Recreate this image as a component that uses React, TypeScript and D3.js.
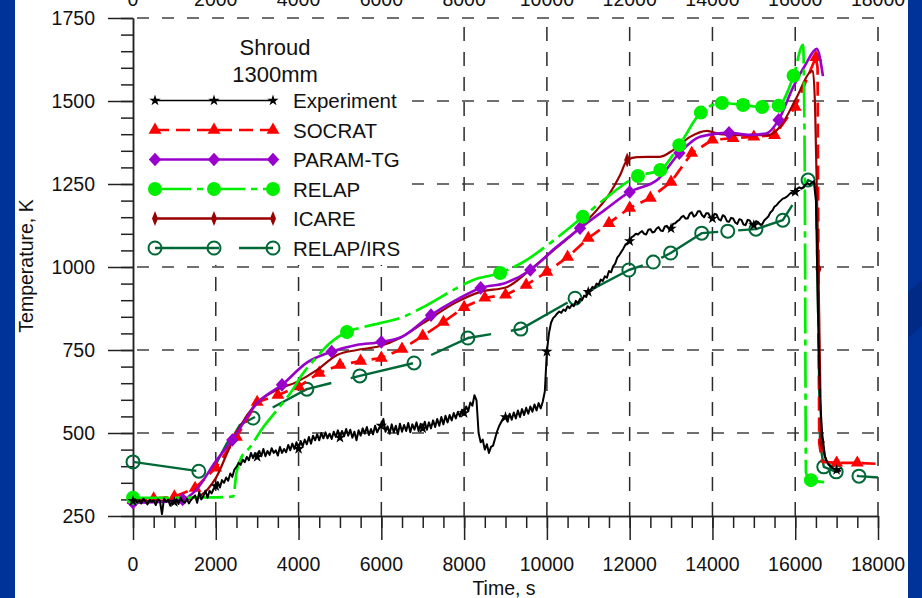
import React, { useEffect, useRef } from "react";
import * as d3 from "d3";

type Pt = [number, number];

const FONT = "'Liberation Sans', Arial, Helvetica, sans-serif";

// axis ticks
const timeTicks = [0, 2000, 4000, 6000, 8000, 10000, 12000, 14000, 16000, 18000];
const tempTicks = [250, 500, 750, 1000, 1250, 1500, 1750];

// experiment: readings every 50 s from t = 0 to 16450 s (noisy thermocouple)
const expStep = 50;
const expTemps = [
  295, 300, 291, 298, 288, 302, 294, 285, 299, 292, 297, 283, 300, 296, 256, 303, 293, 299, 281, 296,
  292, 300, 286, 305, 294, 290, 302, 288, 298, 306, 312, 290, 322, 300, 310, 326, 305, 326, 318, 332,
  340, 352, 336, 358, 350, 366, 356, 378, 368, 390, 398, 410, 404, 420, 412, 428, 418, 440, 424, 440,
  428, 446, 430, 452, 430, 446, 434, 454, 440, 448, 432, 458, 440, 452, 442, 464, 448, 468, 452, 472,
  452, 476, 460, 480, 466, 488, 468, 492, 478, 496, 478, 500, 484, 502, 484, 498, 482, 504, 488, 508,
  486, 506, 490, 512, 492, 510, 486, 504, 478, 508, 492, 514, 498, 518, 494, 512, 496, 522, 502, 516,
  522, 542, 504, 520, 498, 526, 502, 522, 496, 528, 504, 524, 506, 530, 502, 526, 510, 532, 506, 528,
  514, 534, 510, 532, 514, 538, 518, 542, 522, 548, 526, 552, 532, 554, 538, 560, 544, 564, 550, 570,
  560, 580, 566, 592, 582, 614, 598, 500, 472, 480, 450, 466, 440, 458, 462, 484, 506, 522, 534, 546,
  548, 534, 558, 540, 562, 544, 568, 548, 572, 554, 576, 558, 580, 564, 586, 568, 590, 574, 594, 625,
  745, 800, 832, 846, 852, 860, 866, 862, 872, 868, 882, 876, 886, 882, 898, 890, 904, 900, 914, 910,
  925, 930, 940, 936, 950, 946, 962, 958, 972, 968, 988, 984, 1002, 1010, 1028, 1036, 1046, 1056, 1068, 1072,
  1078, 1090, 1094, 1100, 1098, 1104, 1108, 1100, 1098, 1112, 1114, 1104, 1106, 1116, 1120, 1110, 1108, 1122, 1124, 1114,
  1116, 1130, 1132, 1138, 1142, 1150, 1154, 1146, 1146, 1160, 1165, 1152, 1156, 1168, 1168, 1156, 1150, 1162, 1162, 1150,
  1146, 1160, 1158, 1144, 1140, 1156, 1152, 1138, 1136, 1148, 1146, 1134, 1130, 1144, 1142, 1128, 1126, 1142, 1140, 1128,
  1126, 1138, 1136, 1128, 1128, 1140, 1146, 1152, 1164, 1170, 1182, 1186, 1194, 1200, 1206, 1208, 1212, 1218, 1224, 1220,
  1226, 1236, 1240, 1236, 1240, 1248, 1252, 1248, 1254, 1258,
];
// quench part, irregular sampling
const expTail: Pt[] = [
  [16500, 1200], [16560, 800], [16600, 600], [16650, 500], [16720, 428], [16800, 405], [16900, 395], [17000, 389], [17100, 385],
];
const experimentMarks = d3.range(0, 17001, 1000);

const socrat: Pt[] = [
  [0, 298], [500, 302], [1000, 308], [1500, 334], [2000, 395], [2500, 488], [3000, 593], [3500, 614], [4000, 640], [4500, 681],
  [5000, 705], [5500, 717], [6000, 726], [6500, 753], [7000, 792], [7500, 834], [8000, 879], [8500, 907], [9000, 916], [9500, 946],
  [10000, 985], [10500, 1030], [11000, 1087], [11500, 1132], [12000, 1178], [12500, 1208], [13000, 1256], [13500, 1343], [14000, 1383], [14500, 1388],
  [15000, 1392], [15500, 1397], [16000, 1482], [16500, 1632], [16540, 1600], [16580, 470], [16650, 413], [17000, 410], [17500, 410], [18000, 407],
];
const socratMarks = d3.range(0, 17501, 500);

const paramTg: Pt[] = [
  [0, 290], [600, 292], [1200, 300], [1500, 325], [2000, 415], [2400, 479], [3000, 590], [3600, 645], [4200, 712], [4800, 745],
  [5400, 765], [6000, 774], [6500, 790], [7200, 855], [7800, 900], [8400, 937], [9000, 952], [9600, 991], [10200, 1057], [10800, 1117],
  [11400, 1172], [12000, 1226], [12700, 1266], [13200, 1343], [13700, 1392], [14400, 1404], [14900, 1398], [15300, 1402], [15600, 1443], [15950, 1542],
  [16250, 1610], [16520, 1657], [16670, 1575],
];
const paramTgMarks = d3.range(0, 16001, 1200);

const relap: Pt[] = [
  [0, 305], [1000, 305], [2000, 306], [2420, 309], [2500, 380], [2590, 419], [2830, 458], [3150, 518], [3480, 569], [3800, 620],
  [4110, 680], [4440, 729], [4760, 771], [5170, 804], [5560, 819], [5970, 831], [6450, 846], [7010, 879], [7830, 937], [8220, 961],
  [8870, 982], [9430, 1015], [10080, 1072], [10870, 1151], [11460, 1211], [11840, 1247], [12200, 1274], [12740, 1292], [13200, 1367], [13720, 1465],
  [14230, 1494], [14740, 1488], [15200, 1482], [15600, 1486], [15960, 1576], [16190, 1669], [16230, 1300], [16260, 380], [16380, 358], [16700, 352],
];
const relapMarks = [0, 5170, 8870, 10870, 12200, 12740, 13200, 13720, 14230, 14740, 15200, 15600, 15960, 16380];

const icare: Pt[] = [
  [0, 295], [1000, 297], [1500, 305], [1800, 330], [2000, 364], [2340, 458], [2580, 518], [2900, 578], [3480, 630], [3960, 654],
  [4450, 690], [4930, 735], [5410, 750], [5970, 762], [6450, 786], [7010, 831], [7830, 895], [8390, 925], [9040, 940], [9590, 991],
  [10080, 1042], [10730, 1111], [11210, 1172], [11520, 1222], [11770, 1277], [11940, 1322], [12180, 1331], [12730, 1332], [13050, 1352], [13460, 1392],
  [13870, 1410], [14180, 1400], [14670, 1397], [15320, 1397], [15630, 1422], [16040, 1512], [16360, 1587], [16430, 1590], [16480, 1482], [16560, 994],
  [16640, 473], [16750, 420],
];
const icareMarks = [0, 11940, 16560, 16640];

const relapIrs: Pt[] = [
  [0, 413], [1590, 385], [2020, 410], [2270, 470], [2420, 490], [2580, 524], [2900, 545], [4200, 632], [5480, 672], [6790, 711],
  [8090, 786], [9370, 813], [10680, 906], [11980, 991], [12570, 1015], [12990, 1042], [13740, 1102], [14370, 1108], [15050, 1114], [15700, 1141],
  [16310, 1262], [16500, 1250], [16560, 800], [16600, 470], [16690, 398], [16990, 383], [17540, 370], [18000, 366],
];
const relapIrsMarks = [0, 1590, 2900, 4200, 5480, 6790, 8090, 9370, 10680, 11980, 12570, 12990, 13740, 14370, 15050, 15700, 16310, 16690, 16990, 17540];

const drawMarker = (g: any, kind: string, cx: number, cy: number, color: string) => {
  const t = `translate(${cx},${cy})`;
  if (kind === "star") {
    g.append("path").attr("transform", t).attr("d", d3.symbol(d3.symbolStar, 40)()).attr("fill", color);
  } else if (kind === "triangle") {
    g.append("path").attr("transform", t).attr("d", d3.symbol(d3.symbolTriangle, 72)()).attr("fill", color);
  } else if (kind === "diamond") {
    g.append("path").attr("transform", t).attr("d", "M0,-6.8L6.2,0L0,6.8L-6.2,0Z").attr("fill", color);
  } else if (kind === "thinDiamond") {
    g.append("path").attr("transform", t).attr("d", "M0,-7.5L3,0L0,7.5L-3,0Z").attr("fill", color);
  } else if (kind === "dot") {
    g.append("circle").attr("cx", cx).attr("cy", cy).attr("r", 7).attr("fill", color);
  } else if (kind === "ring") {
    g.append("circle").attr("cx", cx).attr("cy", cy).attr("r", 6.5).attr("fill", "none").attr("stroke", color).attr("stroke-width", 2);
  }
};

const App = () => {
  const chartRef = useRef<HTMLDivElement>(null);

  useEffect(() => {
    const W = 922;
    const H = 598;

    d3.select(chartRef.current).select("svg").remove();

    const svg = d3
      .select(chartRef.current)
      .append("svg")
      .attr("width", W)
      .attr("height", H)
      .style("display", "block")
      .style("font-family", FONT);

    // slide background
    svg.append("rect").attr("width", W).attr("height", H).attr("fill", "#003399");
    svg.append("polygon").attr("points", "908,292 922,280 922,326 908,338").attr("fill", "#002a85");
    svg.append("rect").attr("x", 15).attr("y", 0).attr("width", 893).attr("height", H).attr("fill", "#ffffff");

    const x = d3.scaleLinear().domain([0, 18000]).range([133, 878]);
    const y = d3.scaleLinear().domain([250, 1750]).range([516, 18]);

    // horizontal grid (grey dashes)
    svg
      .append("g")
      .selectAll("line")
      .data(tempTicks.filter((d) => d > 250))
      .enter()
      .append("line")
      .attr("x1", x(0))
      .attr("x2", x(18000))
      .attr("y1", (d) => y(d))
      .attr("y2", (d) => y(d))
      .attr("stroke", "#707070")
      .attr("stroke-width", 2)
      .attr("stroke-dasharray", "12,13")
      .attr("stroke-dashoffset", 21);

    // vertical grid (dark dashes), drawn bottom-up
    svg
      .append("g")
      .selectAll("line")
      .data(timeTicks.filter((d) => d > 0))
      .enter()
      .append("line")
      .attr("x1", (d) => x(d))
      .attr("x2", (d) => x(d))
      .attr("y1", y(250))
      .attr("y2", y(1750))
      .attr("stroke", "#2a2a2a")
      .attr("stroke-width", 1.5)
      .attr("stroke-dasharray", "14,11");

    // legend box hides the grid behind it
    svg.append("rect").attr("x", 135).attr("y", 21).attr("width", 275).attr("height", 244).attr("fill", "#ffffff");

    // X axis
    svg
      .append("g")
      .attr("transform", `translate(0,${y(250)})`)
      .call(d3.axisBottom(x).tickValues(d3.range(0, 18001, 500)).tickSize(12).tickSizeOuter(0).tickFormat(() => ""))
      .call((g) => g.selectAll("line,path").attr("stroke", "#222").attr("stroke-width", 1.5));
    svg
      .append("g")
      .attr("transform", `translate(0,${y(250)})`)
      .call(d3.axisBottom(x).tickValues(timeTicks).tickSize(24).tickSizeOuter(0).tickFormat(() => ""))
      .call((g) => g.selectAll("line,path").attr("stroke", "#222").attr("stroke-width", 1.5));

    // Y axis
    svg
      .append("g")
      .attr("transform", `translate(${x(0)},0)`)
      .call(d3.axisLeft(y).tickValues(d3.range(250, 1751, 50)).tickSize(12).tickSizeOuter(0).tickFormat(() => ""))
      .call((g) => g.selectAll("line,path").attr("stroke", "#222").attr("stroke-width", 1.5));
    svg
      .append("g")
      .attr("transform", `translate(${x(0)},0)`)
      .call(d3.axisLeft(y).tickValues(tempTicks).tickSize(25).tickSizeOuter(0).tickFormat(() => ""))
      .call((g) => g.selectAll("line,path").attr("stroke", "#222").attr("stroke-width", 1.5));

    // tick labels
    const labels = svg.append("g").attr("fill", "#111").style("font-size", "19.5px");
    labels
      .selectAll(".xb")
      .data(timeTicks)
      .enter()
      .append("text")
      .attr("x", (d) => x(d))
      .attr("y", 571)
      .attr("text-anchor", "middle")
      .text((d) => d);
    // top copy of the time labels, cut by the slide edge as in the original
    labels
      .selectAll(".xt")
      .data(timeTicks)
      .enter()
      .append("text")
      .attr("x", (d) => x(d))
      .attr("y", 6)
      .attr("text-anchor", "middle")
      .text((d) => d);
    labels
      .selectAll(".yl")
      .data(tempTicks)
      .enter()
      .append("text")
      .attr("x", 95)
      .attr("y", (d) => y(d) + 7)
      .attr("text-anchor", "end")
      .text((d) => d);

    // axis titles
    svg
      .append("text")
      .attr("x", 504)
      .attr("y", 595)
      .attr("text-anchor", "middle")
      .attr("fill", "#111")
      .style("font-size", "19.5px")
      .text("Time, s");
    svg
      .append("text")
      .attr("transform", "translate(33,266) rotate(-90)")
      .attr("text-anchor", "middle")
      .attr("fill", "#111")
      .style("font-size", "19.5px")
      .text("Temperature, K");

    const experiment: Pt[] = expTemps.map((T, i) => [i * expStep, T] as Pt).concat(expTail);

    const series = [
      { name: "Experiment", data: experiment, marks: experimentMarks, color: "#000000", width: 2, legendWidth: 1.3, dash: null, curve: d3.curveLinear, marker: "star" },
      { name: "SOCRAT", data: socrat, marks: socratMarks, color: "#ff0000", width: 2.7, legendWidth: 2.7, dash: "14,7", curve: d3.curveLinear, marker: "triangle" },
      { name: "PARAM-TG", data: paramTg, marks: paramTgMarks, color: "#9900cc", width: 2.6, legendWidth: 2.6, dash: null, curve: d3.curveMonotoneX, marker: "diamond" },
      { name: "RELAP", data: relap, marks: relapMarks, color: "#00ee00", width: 2.7, legendWidth: 2.7, dash: "36,6,6,6", curve: d3.curveMonotoneX, marker: "dot" },
      { name: "ICARE", data: icare, marks: icareMarks, color: "#990000", width: 2.2, legendWidth: 2.4, dash: null, curve: d3.curveMonotoneX, marker: "thinDiamond" },
      { name: "RELAP/IRS", data: relapIrs, marks: relapIrsMarks, color: "#006837", width: 2.4, legendWidth: 2.4, dash: "64,20", curve: d3.curveLinear, marker: "ring" },
    ];

    // draw order: IRS, SOCRAT, ICARE, PARAM-TG, RELAP, Experiment
    const order = ["RELAP/IRS", "SOCRAT", "ICARE", "PARAM-TG", "RELAP", "Experiment"];
    const plot = svg.append("g");
    order.forEach((nm) => {
      const s = series.find((d) => d.name === nm)!;
      const line = d3
        .line<Pt>()
        .x((d) => x(d[0]))
        .y((d) => y(d[1]))
        .curve(s.curve);
      const g = plot.append("g");
      g.append("path")
        .datum(s.data)
        .attr("fill", "none")
        .attr("stroke", s.color)
        .attr("stroke-width", s.width)
        .attr("stroke-linejoin", "round")
        .attr("stroke-dasharray", s.dash)
        .attr("d", line);
      s.data
        .filter((d) => s.marks.includes(d[0]))
        .forEach((d) => drawMarker(g, s.marker, x(d[0]), y(d[1]), s.color));
    });

    // legend
    const legend = svg.append("g");
    legend
      .append("text")
      .attr("x", 275)
      .attr("y", 55)
      .attr("text-anchor", "middle")
      .attr("fill", "#111")
      .style("font-size", "22px")
      .text("Shroud");
    legend
      .append("text")
      .attr("x", 275)
      .attr("y", 82)
      .attr("text-anchor", "middle")
      .attr("fill", "#111")
      .style("font-size", "22px")
      .text("1300mm");

    series.forEach((s, i) => {
      const ry = 100.5 + i * 29.5;
      legend
        .append("line")
        .attr("x1", 155)
        .attr("x2", 273)
        .attr("y1", ry)
        .attr("y2", ry)
        .attr("stroke", s.color)
        .attr("stroke-width", s.legendWidth)
        .attr("stroke-dasharray", s.dash);
      [155, 214, 273].forEach((mx) => drawMarker(legend, s.marker, mx, ry, s.color));
      legend
        .append("text")
        .attr("x", 293)
        .attr("y", ry + 7.5)
        .attr("fill", "#111")
        .style("font-size", "20.5px")
        .text(s.name);
    });
  }, []);

  return <div ref={chartRef} style={{ position: "absolute", left: 0, top: 0 }}></div>;
};

export default App;
